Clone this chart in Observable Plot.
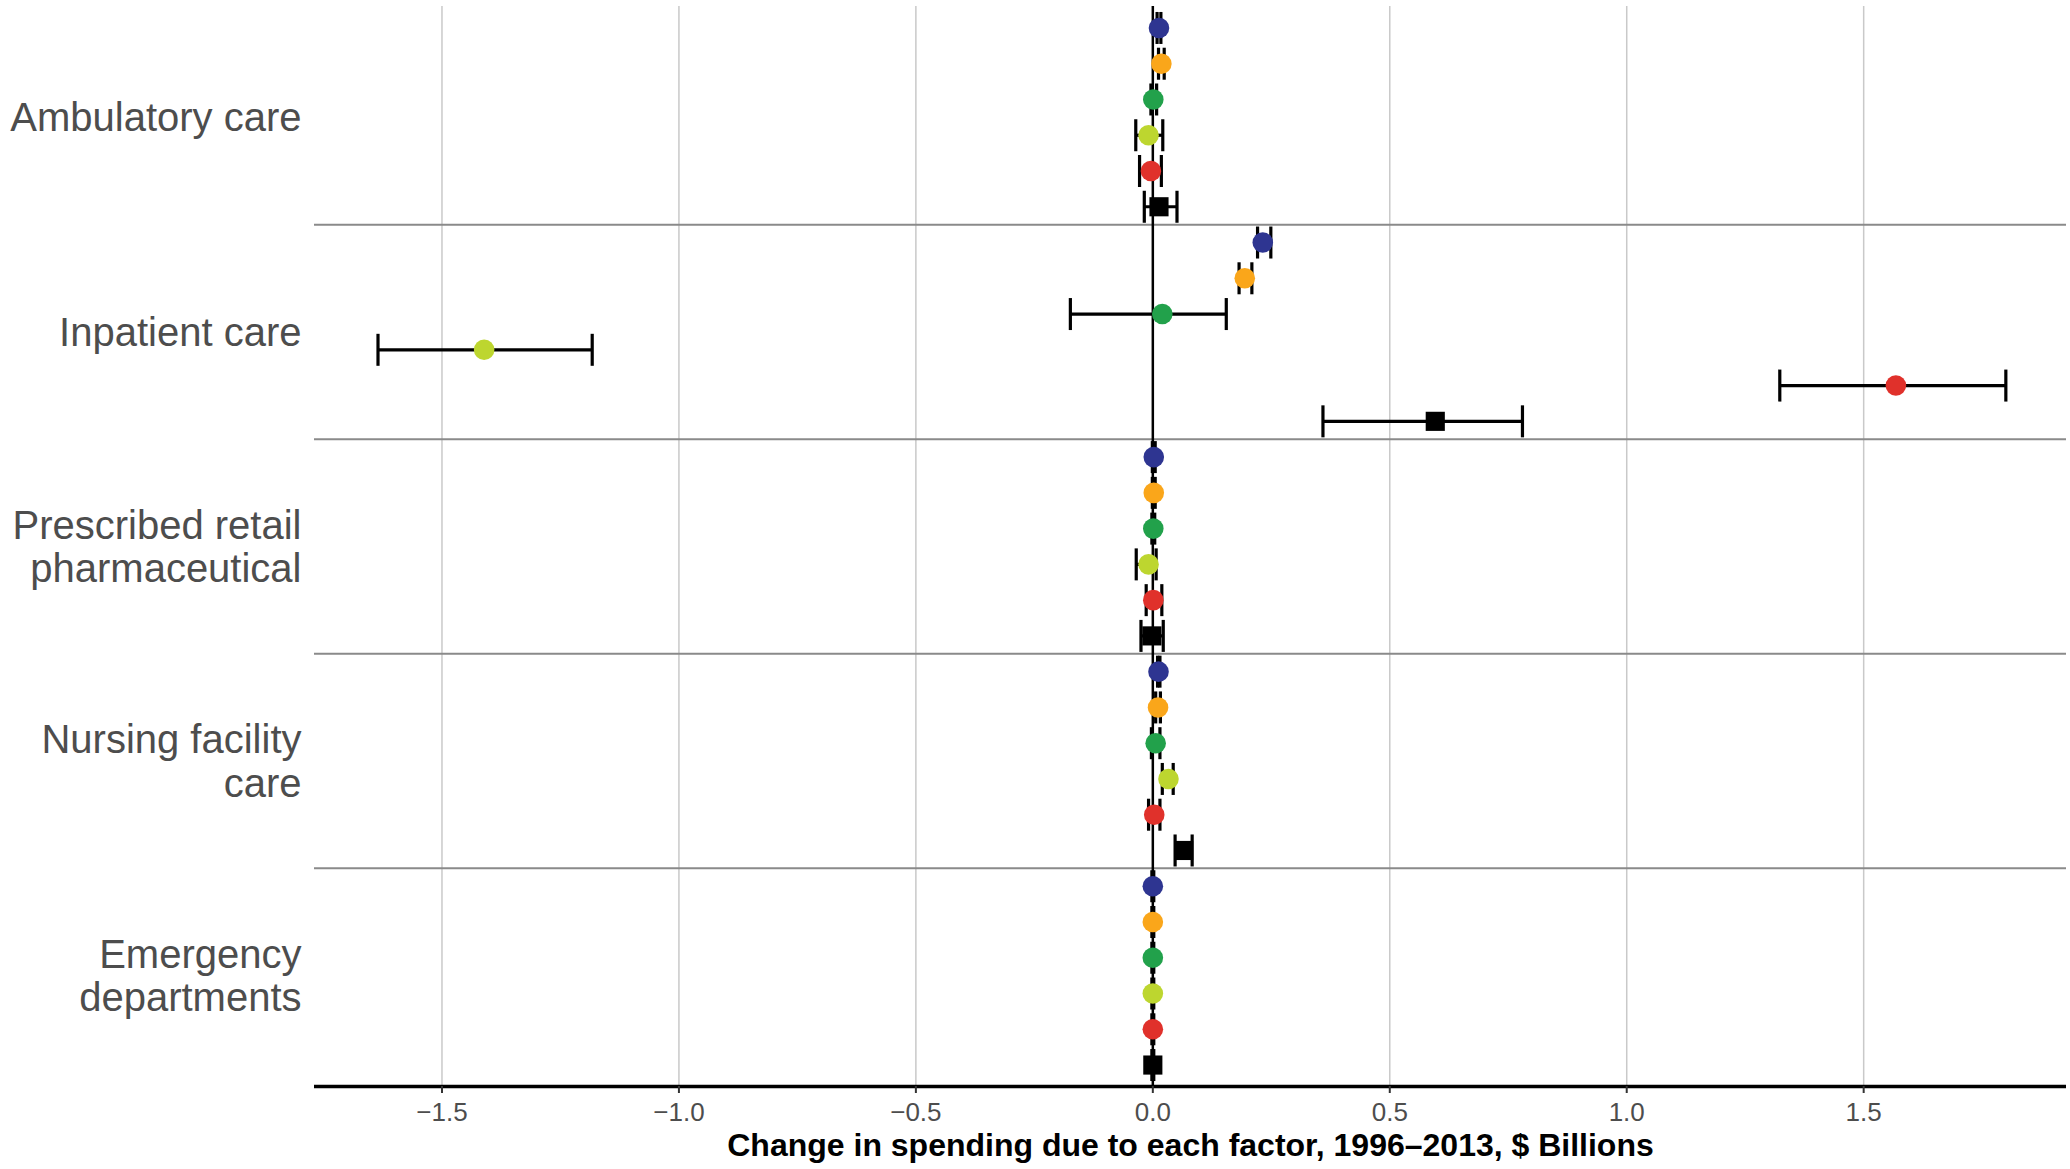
<!DOCTYPE html>
<html>
<head>
<meta charset="utf-8">
<script src="https://cdn.jsdelivr.net/npm/d3@7"></script>
<script src="https://cdn.jsdelivr.net/npm/@observablehq/plot@0.6"></script>
<style>
  html, body { margin: 0; padding: 0; background: #ffffff; }
  #chart svg { display: block; }
</style>
</head>
<body>
<div id="chart"></div>
<script>
// ---- Data ----
const categories = [
  "Ambulatory care",
  "Inpatient care",
  "Prescribed retail pharmaceutical",
  "Nursing facility care",
  "Emergency departments"
];
const categoryLabels = [
  "Ambulatory care",
  "Inpatient care",
  "Prescribed retail\npharmaceutical",
  "Nursing facility\ncare",
  "Emergency\ndepartments"
];
const factors = [
  "Population growth",
  "Population ageing",
  "Disease prevalence",
  "Service utilization",
  "Price and intensity",
  "Total"
];
const factorColors = ["#2e3591", "#faa61a", "#22a14b", "#bdd62f", "#e0312b", "#000000"];

// rows = categories, columns = factors
const estimates = [
  [0.013, 0.018, 0.001, -0.009, -0.004, 0.013],
  [0.232, 0.194, 0.020, -1.411, 1.568, 0.596],
  [0.002, 0.002, 0.001, -0.009, 0.001, -0.002],
  [0.012, 0.011, 0.006, 0.033, 0.003, 0.065],
  [0.000, 0.000, 0.000, 0.000, 0.000, 0.000]
];
const lower = [
  [0.009, 0.012, -0.004, -0.036, -0.028, -0.018],
  [0.221, 0.182, -0.174, -1.635, 1.323, 0.359],
  [-0.001, -0.001, -0.002, -0.035, -0.014, -0.025],
  [0.010, 0.006, -0.003, 0.020, -0.009, 0.047],
  [-0.002, -0.002, -0.002, -0.002, -0.002, -0.002]
];
const upper = [
  [0.017, 0.024, 0.008, 0.021, 0.018, 0.051],
  [0.249, 0.209, 0.155, -1.183, 1.800, 0.780],
  [0.005, 0.005, 0.004, 0.007, 0.019, 0.022],
  [0.015, 0.016, 0.015, 0.043, 0.015, 0.083],
  [0.002, 0.002, 0.002, 0.002, 0.002, 0.002]
];
const xTicks = [-1.5, -1.0, -0.5, 0.0, 0.5, 1.0, 1.5];
const xDomain = [-1.769, 1.928];
const xTitle = "Change in spending due to each factor, 1996\u20132013, $ Billions";

// ---- Derived table ----
const nF = factors.length;
const rows = [];
categories.forEach((c, ci) => factors.forEach((f, fi) => rows.push({
  category: c, factor: f, pos: ci * nF + fi,
  value: estimates[ci][fi], lo: lower[ci][fi], hi: upper[ci][fi]
})));
const separators = categories.slice(1).map((c, i) => (i + 1) * nF - 0.5);
const centers = categories.map((c, i) => i * nF + (nF - 1) / 2);
const yDomain = [-0.6, categories.length * nF - 1 + 0.6];

const capSymbol = {
  draw(context, size) {
    const h = Math.sqrt(size / Math.PI);
    context.moveTo(0, -h);
    context.lineTo(0, h);
  }
};

const chart = Plot.plot({
  width: 2070,
  height: 1169,
  marginLeft: 314,
  marginRight: 4,
  marginTop: 6,
  marginBottom: 83,
  style: { fontFamily: "'Liberation Sans', Arial, Helvetica, sans-serif", background: "#ffffff" },
  x: { domain: xDomain },
  y: { domain: yDomain, reverse: true, axis: null },
  color: { domain: factors, range: factorColors },
  marks: [
    Plot.gridX(xTicks, { stroke: "#c9c9c9", strokeOpacity: 1, strokeWidth: 1.5 }),
    Plot.ruleY(separators, { stroke: "#8a8a8a", strokeWidth: 2 }),
    Plot.ruleX([0], { stroke: "#000000", strokeWidth: 2.5 }),
    Plot.ruleY(rows, { y: "pos", x1: "lo", x2: "hi", stroke: "#000000", strokeWidth: 3.2 }),
    Plot.dot(rows, { x: "lo", y: "pos", symbol: capSymbol, r: 16, fill: "none", stroke: "#000000", strokeWidth: 3.2 }),
    Plot.dot(rows, { x: "hi", y: "pos", symbol: capSymbol, r: 16, fill: "none", stroke: "#000000", strokeWidth: 3.2 }),
    Plot.dot(rows.filter(d => d.factor !== "Total"), { x: "value", y: "pos", r: 10.3, fill: "factor", stroke: "none" }),
    Plot.dot(rows.filter(d => d.factor === "Total"), { x: "value", y: "pos", r: 10.8, symbol: "square", fill: "factor", stroke: "none" }),
    Plot.ruleY([yDomain[1]], { stroke: "#000000", strokeWidth: 3.3 }),
    Plot.axisX(xTicks, {
      anchor: "bottom", tickSize: 7, tickPadding: 9, fontSize: 26,
      tickFormat: d3.format(".1f"), stroke: "#333333", strokeWidth: 2,
      color: "#4d4d4d", label: null
    }),
    Plot.axisY(centers, {
      anchor: "left", tickSize: 0, tickPadding: 13, fontSize: 40, lineHeight: 1.09,
      tickFormat: (d, i) => categoryLabels[i], color: "#4d4d4d", label: null
    }),
    Plot.text([xTitle], {
      frameAnchor: "bottom", dy: 69, fontSize: 32, fontWeight: "bold", fill: "#000000"
    })
  ]
});
document.getElementById("chart").append(chart);
</script>
</body>
</html>
